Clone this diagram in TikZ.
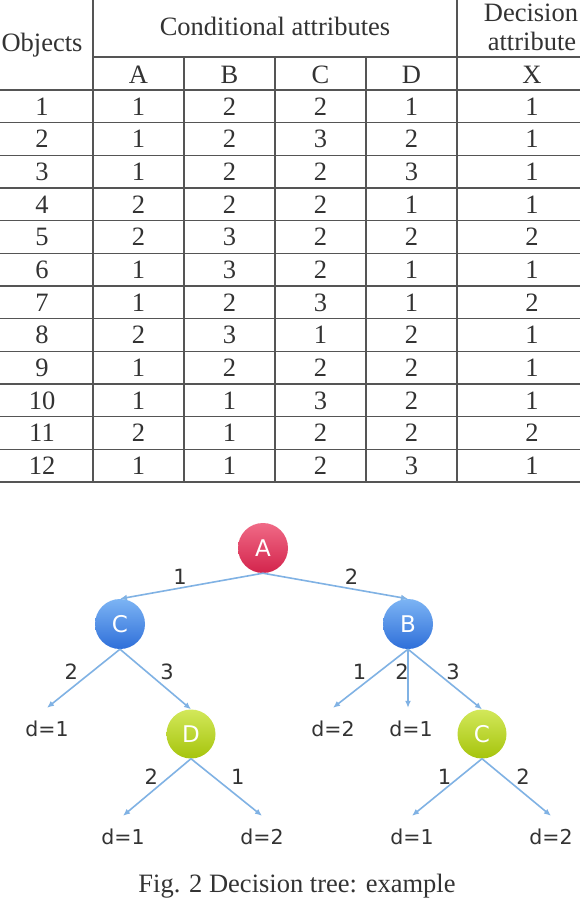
\documentclass[tikz,border=0pt]{standalone}
\usepackage{fontspec}
\setmainfont{Liberation Serif}
\newfontfamily\treefont{DejaVu Sans}
\usetikzlibrary{arrows.meta}
\definecolor{tabline}{HTML}{555555}
\definecolor{txt}{HTML}{333333}
\definecolor{edgeblue}{HTML}{80B2E4}
\definecolor{redtop}{HTML}{F06A86}
\definecolor{redbot}{HTML}{D3244C}
\definecolor{bluetop}{HTML}{7CB4F4}
\definecolor{bluebot}{HTML}{2F6FD9}
\definecolor{greentop}{HTML}{D2E85A}
\definecolor{greenbot}{HTML}{A6C40C}
\tikzset{
  cell/.style={font=\fontsize{26.5}{30}\selectfont, text=txt, inner sep=0pt},
  tabrule/.style={draw=tabline, line width=1.3pt},
  ball/.style={circle, minimum size=50pt, inner sep=0pt, text=white,
    font=\treefont\fontsize{23}{23}\selectfont},
  redball/.style={ball, top color=redtop, bottom color=redbot},
  blueball/.style={ball, top color=bluetop, bottom color=bluebot},
  greenball/.style={ball, minimum size=49pt, top color=greentop, bottom color=greenbot},
  leaf/.style={font=\treefont\fontsize{20.5}{20.5}\selectfont, text=txt,
    text height=15pt, text depth=0pt, inner ysep=13.5pt, inner xsep=1pt},
  edge/.style={draw=edgeblue, line width=1.6pt, -{Latex[length=7pt,width=6pt]}},
  elabel/.style={font=\treefont\fontsize{21}{21}\selectfont, text=txt, inner sep=0pt}
}
\begin{document}
\begin{tikzpicture}[x=1pt,y=-1pt]
\useasboundingbox (0,0) rectangle (580,898);
\fill[white] (0,0) rectangle (580,898);
% ---------------- table rules ----------------
\begin{scope}
\clip (0,0) rectangle (580,898);
\draw[tabrule] (93,0) -- (93,482);
\draw[tabrule] (457,0) -- (457,482);
\foreach \x in {184,275,366} \draw[tabrule] (\x,57) -- (\x,482);
\draw[tabrule] (93,57) -- (580,57);
\foreach \k in {0,...,12} \draw[tabrule] (0,{90+32.67*\k}) -- (580,{90+32.67*\k});
\end{scope}
% ---------------- table header ----------------
\node[cell, anchor=base] (hobj) at (42,51) {Objects};
\node[cell, anchor=base] (hcond) at (275,35) {Conditional attributes};
\node[cell, anchor=base] (hdec1) at (531,21) {Decision};
\node[cell, anchor=base] (hdec2) at (532,50) {attribute};
\node[cell, anchor=base] (hA) at (138.5,83) {A};
\node[cell, anchor=base] (hB) at (229.5,83) {B};
\node[cell, anchor=base] (hC) at (320.5,83) {C};
\node[cell, anchor=base] (hD) at (411.5,83) {D};
\node[cell, anchor=base] (hX) at (532,83) {X};
% ---------------- table body ----------------
\foreach \vals [count=\r] in {
  {1,1,2,2,1,1},{2,1,2,3,2,1},{3,1,2,2,3,1},{4,2,2,2,1,1},
  {5,2,3,2,2,2},{6,1,3,2,1,1},{7,1,2,3,1,2},{8,2,3,1,2,1},
  {9,1,2,2,2,1},{10,1,1,3,2,1},{11,2,1,2,2,2},{12,1,1,2,3,1}}{
  \foreach \v [count=\c] in \vals {
    \ifcase\c\or\def\cx{42}\or\def\cx{138.5}\or\def\cx{229.5}\or\def\cx{320.5}\or\def\cx{411.5}\or\def\cx{532}\fi
    \node[cell] (r\r c\c) at (\cx,{90+32.67*(\r-0.5)}) {\v};
  }
}
% ---------------- tree ----------------
\node[redball] (A) at (263,548) {A};
\node[blueball] (C1) at (120,624) {C};
\node[blueball] (B) at (408,624) {B};
\node[greenball] (D) at (191,734) {D};
\node[greenball] (C2) at (482,734) {C};
\node[leaf] (l1) at (47,729) {d=1};
\node[leaf] (l2) at (333,729) {d=2};
\node[leaf] (l3) at (411,729) {d=1};
\node[leaf] (l4) at (123,837) {d=1};
\node[leaf] (l5) at (262,837) {d=2};
\node[leaf] (l6) at (412,837) {d=1};
\node[leaf] (l7) at (551,837) {d=2};

\draw[edge] (A.south) -- node[elabel, pos=0.58, yshift=11.5pt] {1} (C1.north);
\draw[edge] (A.south) -- node[elabel, pos=0.61, yshift=12pt] {2} (B.north);
\draw[edge] (C1.south) -- node[elabel, pos=0.38, xshift=-21pt] {2} (l1.north);
\draw[edge] (C1.south) -- node[elabel, pos=0.38, xshift=20pt] {3} (D.north);
\draw[edge] (B.south) -- node[elabel, pos=0.38, xshift=-20pt] {1} (l2.north);
\draw[edge] (B.south) -- node[elabel, pos=0.38, xshift=-6pt] {2} (B.south |- l3.north);
\draw[edge] (B.south) -- node[elabel, pos=0.38, xshift=17pt] {3} (C2.north);
\draw[edge] (D.south) -- node[elabel, pos=0.32, xshift=-18pt] {2} (l4.north);
\draw[edge] (D.south) -- node[elabel, pos=0.32, xshift=24pt] {1} (l5.north);
\draw[edge] (C2.south) -- node[elabel, pos=0.32, xshift=-15pt] {1} (l6.north);
\draw[edge] (C2.south) -- node[elabel, pos=0.32, xshift=19pt] {2} (l7.north);
% ---------------- caption ----------------
\node[cell, anchor=base] (cap) at (297,892) {Fig. 2 Decision tree: example};
\end{tikzpicture}
\end{document}
